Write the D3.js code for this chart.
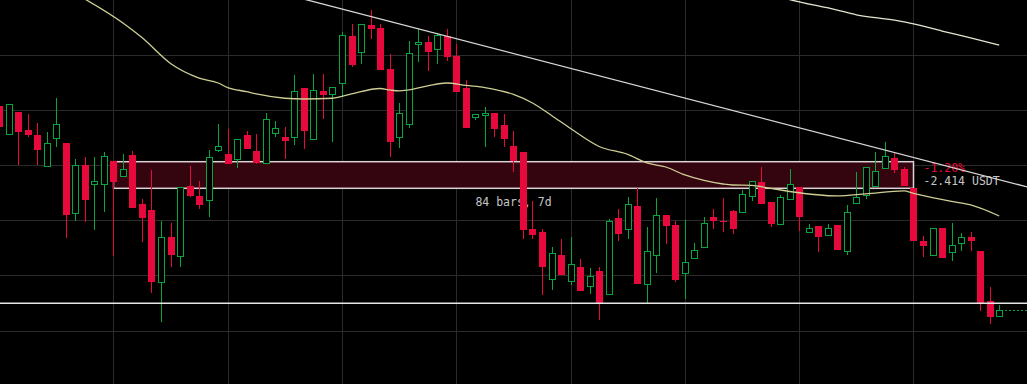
<!DOCTYPE html>
<html>
<head>
	<title>Candles</title>
	<script type="text/javascript" src="https://cdn.jsdelivr.net/npm/d3@7"></script>
	<style type="text/css">
		body { margin: 0; background: #000; }
		svg { display: block; background: #000; }
		text { font-family: "DejaVu Sans Mono", monospace; font-size: 11.5px; }
	</style>
</head>
<body>

	<svg width="1027" height="384" class="chart"></svg>

	<script type="text/javascript">

		// OHLC, one entry per 2h bar (index 0..105)
		var opens = [205.35,202.81,204.80,203.17,202.72,199.91,202.45,202.00,195.66,200.00,
			198.28,198.28,200.37,199.01,200.91,196.47,195.93,189.41,193.48,191.76,
			198.10,197.20,196.83,201.36,201.00,200.55,202.72,201.27,200.19,202.90,
			202.54,202.54,206.98,202.36,206.71,206.44,207.43,211.69,210.24,212.69,
			212.41,208.70,202.54,203.72,210.96,211.15,210.51,211.69,209.88,206.98,
			204.35,204.53,204.71,203.63,201.72,201.18,194.21,193.94,189.68,191.85,
			189.50,190.77,189.04,190.40,188.32,195.20,194.21,196.29,189.22,191.85,
			195.47,194.57,190.22,191.58,192.58,195.29,194.93,195.84,195.75,197.20,
			198.46,196.65,194.66,196.92,198.01,193.94,194.48,193.66,194.57,192.21,
			196.56,197.29,198.10,199.73,200.64,199.64,197.92,193.12,191.85,194.30,
			192.12,192.94,193.48,192.21,187.69,186.33]

		var highs = [205.53,205.53,204.80,204.62,203.81,202.99,206.07,202.00,200.55,200.73,
			200.73,201.18,200.37,201.00,201.27,196.92,199.55,194.93,194.75,198.01,
			199.91,198.56,201.36,203.72,203.27,202.36,203.08,202.81,204.71,203.99,
			203.45,208.16,206.98,208.25,208.25,207.07,212.05,212.78,212.78,214.04,
			212.78,210.06,205.62,211.24,212.32,211.69,211.96,212.32,210.96,207.70,
			204.62,205.26,204.71,204.62,203.08,201.18,196.74,194.21,192.58,193.30,
			193.48,191.49,190.67,190.77,195.11,196.02,197.11,197.92,194.39,197.02,
			195.47,194.93,195.02,192.94,195.29,196.02,197.02,195.93,197.74,198.56,
			199.82,196.65,197.29,199.64,198.01,194.66,194.48,194.66,194.57,196.38,
			199.37,199.82,201.18,202.09,201.09,199.82,197.92,193.57,194.30,194.30,
			194.75,193.84,193.94,192.21,188.95,187.33]

		var lows = [203.36,202.81,200.00,202.54,200.00,199.91,201.63,193.39,194.93,194.84,
			194.12,195.75,191.76,199.01,196.11,193.03,188.41,185.78,190.77,190.77,
			197.11,196.02,195.29,201.18,200.09,199.73,201.45,200.09,200.19,202.54,
			200.55,201.82,201.45,202.36,204.17,202.09,206.16,208.88,209.15,211.42,
			208.61,200.73,201.54,203.36,209.33,208.52,209.15,209.42,206.62,203.36,
			204.08,201.63,202.54,201.63,199.37,193.30,193.30,188.23,188.68,190.04,
			189.13,188.59,188.32,185.96,188.32,193.12,193.30,189.22,187.50,190.22,
			192.85,189.41,187.87,191.49,192.58,194.21,193.94,193.75,195.75,196.74,
			196.47,194.39,194.66,196.92,194.03,193.84,192.12,193.66,192.31,191.85,
			196.56,196.92,198.10,199.73,199.28,198.10,193.12,191.67,191.76,191.58,
			191.31,192.21,192.21,186.78,185.60,186.33]

		var closes = [203.45,205.53,202.99,202.72,201.36,202.00,203.72,195.47,200.00,196.83,
			198.56,200.82,198.46,199.64,196.11,195.20,189.41,193.48,191.85,198.01,
			197.20,196.38,200.73,201.72,200.09,202.36,201.45,200.19,204.17,203.36,
			202.18,206.71,203.08,206.80,206.34,207.07,211.78,209.06,212.78,212.32,
			208.61,202.09,204.71,210.15,211.15,210.24,211.78,209.79,206.62,203.36,
			204.62,204.71,203.27,202.36,200.37,194.12,193.66,190.77,192.03,190.04,
			191.04,188.59,189.95,187.50,194.93,193.75,196.47,189.22,192.21,195.47,
			194.48,189.59,191.22,192.31,194.75,194.93,194.84,194.21,197.38,198.56,
			196.47,194.66,197.11,198.28,195.29,194.30,193.48,194.30,192.31,195.75,
			197.11,199.82,199.46,200.82,199.55,198.10,193.12,192.67,194.30,191.58,
			192.76,193.48,193.12,187.50,186.24,186.87]

		// moving averages (bar index, value)
		var ma1Idx = [9,13,15,18,21,23,24,26,27,30,32,35,37,40,41,42,43,45,47,49,51,54,56,58,60,63,66,68,70,72,74,76,77,79,80,83,88,91,95,96,100,102,105]
		var ma1Vals = [215.04,212.87,211.55,209.20,207.88,207.43,207.02,206.64,206.44,206.05,205.98,206.05,206.44,206.93,206.80,206.71,206.80,207.16,207.43,207.21,207.02,206.39,205.62,204.49,203.31,201.68,200.96,200.19,199.82,199.10,198.60,198.28,198.19,198.16,198.04,197.60,197.20,197.38,197.65,197.44,196.70,196.38,195.38]

		var ma2Idx = [82,83,88,90,94,96,99,102,105]
		var ma2Vals = [215.22,214.99,214.04,213.61,213.12,212.78,212.14,211.51,210.87]

		// drawings
		var trendIdx = [39, 93]
		var trendVals = [213.46, 201.36]
		var levelPrice = 187.48
		var rangeIdx = [12, 96]
		var rangeVals = [200.30, 197.89]
		var rangeLabel = '84 bars, 7d'
		var changeLabels = ['-1.20%', '-2.414 USDT']

		var gridIdx = [12, 24, 36, 48, 60, 72, 84, 96]
		var gridPrices = [185, 190, 195, 200, 205, 210]

		var width = 1027, height = 384
		var red = '#e8093c', green = '#0aa53e'

		var xs = d3.scaleLinear().domain([0, 105]).range([-0.9, 999.2])
		var ys = d3.scaleLinear().domain([180.16, 214.95]).range([height, 0])
		var px = function(i) { return Math.round(xs(i)) }
		var py = function(v) { return Math.round(ys(v)) }

		var svg = d3.select('.chart')

		// grid
		var grid = svg.append('g').attr('stroke', '#2b2b2b').attr('stroke-width', 1)
		grid.selectAll('.vg').data(gridIdx).enter().append('line')
			.attr('x1', function(d) { return px(d) + 0.5 })
			.attr('x2', function(d) { return px(d) + 0.5 })
			.attr('y1', 0).attr('y2', height)
		grid.selectAll('.hg').data(gridPrices).enter().append('line')
			.attr('y1', function(d) { return py(d) + 0.5 })
			.attr('y2', function(d) { return py(d) + 0.5 })
			.attr('x1', 0).attr('x2', width)

		// date & price range box
		var bx0 = px(rangeIdx[0]) + 0.5, bx1 = px(rangeIdx[1]) + 0.5
		var by0 = ys(rangeVals[0]), by1 = ys(rangeVals[1])
		svg.append('rect')
			.attr('x', bx0).attr('y', by0)
			.attr('width', bx1 - bx0).attr('height', by1 - by0)
			.attr('fill', '#35050f')
			.attr('stroke', '#ddd2d5')
			.attr('stroke-width', 1.5)

		svg.append('text')
			.attr('x', (bx0 + bx1) / 2)
			.attr('y', by1 + 18)
			.attr('text-anchor', 'middle')
			.attr('fill', '#c4c4c4')
			.text(rangeLabel)

		svg.append('text')
			.attr('x', bx1 + 10).attr('y', by0 + 10.5)
			.attr('fill', red)
			.text(changeLabels[0])
		svg.append('text')
			.attr('x', bx1 + 10).attr('y', by0 + 23.5)
			.attr('fill', '#c4c4c4')
			.text(changeLabels[1])

		// candles
		var bars = d3.range(opens.length).map(function(i) {
			return {i: i, o: opens[i], h: highs[i], l: lows[i], c: closes[i]}
		})

		var cg = svg.append('g').selectAll('.candle').data(bars).enter().append('g')

		cg.append('line')
			.attr('x1', function(d) { return px(d.i) + 0.5 })
			.attr('x2', function(d) { return px(d.i) + 0.5 })
			.attr('y1', function(d) { return py(d.h) })
			.attr('y2', function(d) { return py(d.l) })
			.attr('stroke', function(d) { return d.c >= d.o ? green : red })
			.attr('stroke-width', 1)

		cg.append('rect')
			.attr('x', function(d) { return d.c >= d.o ? px(d.i) - 2.5 : px(d.i) - 3 })
			.attr('y', function(d) {
				var t = py(Math.max(d.o, d.c))
				return d.c >= d.o ? t + 0.5 : t
			})
			.attr('width', function(d) { return d.c >= d.o ? 6 : 7 })
			.attr('height', function(d) {
				var hh = py(Math.min(d.o, d.c)) - py(Math.max(d.o, d.c))
				return d.c >= d.o ? Math.max(hh, 1) : Math.max(hh, 1)
			})
			.attr('fill', function(d) { return d.c >= d.o ? '#000' : red })
			.attr('stroke', function(d) { return d.c >= d.o ? green : 'none' })
			.attr('stroke-width', 1)

		// moving averages
		var maLine = d3.line()
			.x(function(d) { return xs(d[0]) })
			.y(function(d) { return ys(d[1]) })
			.curve(d3.curveMonotoneX)

		svg.append('path')
			.attr('d', maLine(ma1Idx.map(function(d, k) { return [d, ma1Vals[k]] })))
			.attr('fill', 'none')
			.attr('stroke', '#cfcf95')
			.attr('stroke-width', 1.3)

		svg.append('path')
			.attr('d', maLine(ma2Idx.map(function(d, k) { return [d, ma2Vals[k]] })))
			.attr('fill', 'none')
			.attr('stroke', '#e4e4d0')
			.attr('stroke-width', 1.3)

		// trend line, extended across the view
		var slope = (trendVals[1] - trendVals[0]) / (trendIdx[1] - trendIdx[0])
		var tA = -5, tB = 115
		svg.append('line')
			.attr('x1', xs(tA)).attr('y1', ys(trendVals[0] + slope * (tA - trendIdx[0])))
			.attr('x2', xs(tB)).attr('y2', ys(trendVals[0] + slope * (tB - trendIdx[0])))
			.attr('stroke', '#d6d6d6')
			.attr('stroke-width', 1.3)

		// horizontal level
		svg.append('line')
			.attr('x1', 0).attr('x2', width)
			.attr('y1', ys(levelPrice)).attr('y2', ys(levelPrice))
			.attr('stroke', '#e6e6e6')
			.attr('stroke-width', 1.5)

		// last price line
		var last = bars[bars.length - 1]
		svg.append('line')
			.attr('x1', px(last.i) + 6).attr('x2', width)
			.attr('y1', py(last.c) + 0.5).attr('y2', py(last.c) + 0.5)
			.attr('stroke', green)
			.attr('stroke-dasharray', '2,2')
			.attr('stroke-width', 1)

	</script>

</body>
</html>
